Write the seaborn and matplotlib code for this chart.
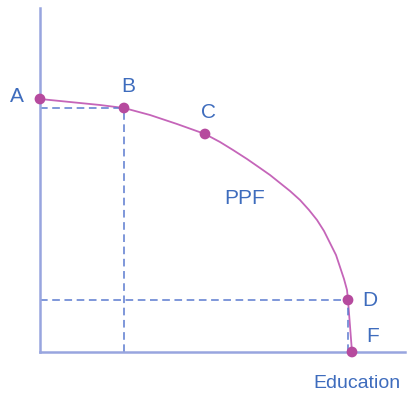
import matplotlib
matplotlib.use('Agg')
import matplotlib.pyplot as plt
import seaborn as sns
import pandas as pd

# PPF curve (education on x, other good on y)
curve_x = [0, 20, 40, 60, 84, 110, 137, 165, 180, 193, 207, 220, 230, 240, 250, 260, 269, 277, 284, 290, 296, 300, 304, 307, 308, 310, 312]
curve_y = [253, 251, 249, 247, 244, 237, 228, 218, 210, 202, 193, 184, 177, 169, 161, 152, 142, 132, 121, 109, 97, 85, 73, 62, 52, 26, 0]

# labelled points
point_labels = ['A', 'B', 'C', 'D', 'F']
point_x = [0, 84, 165, 308, 312]
point_y = [253, 244, 218, 52, 0]

axis_col = '#98a5df'
dash_col = '#5b7bcf'
curve_col = '#c565b9'
dot_col = '#b64a9e'
text_col = '#3e6cbd'

sns.set_style('white')
plt.rcParams['font.family'] = ['Liberation Sans', 'DejaVu Sans']

fig = plt.figure(figsize=(4.09, 3.96), dpi=100)
ax = fig.add_axes([40 / 409, 44 / 396, 365 / 409, 344 / 396])

curve = pd.DataFrame({'x': curve_x, 'y': curve_y})
sns.lineplot(data=curve, x='x', y='y', sort=False, color=curve_col, lw=1.3, ax=ax)

# dashed guide lines from B and D
bx, by = point_x[1], point_y[1]
dx, dy = point_x[3], point_y[3]
ax.plot([0, bx], [by, by], ls=(0, (5, 3)), color=dash_col, lw=1.1)
ax.plot([bx, bx], [0, by], ls=(0, (5, 3)), color=dash_col, lw=1.1)
ax.plot([0, dx], [dy, dy], ls=(0, (5, 3)), color=dash_col, lw=1.1)
ax.plot([dx, dx], [0, dy], ls=(0, (5, 3)), color=dash_col, lw=1.1)

pts = pd.DataFrame({'x': point_x, 'y': point_y})
sns.scatterplot(data=pts, x='x', y='y', color=dot_col, s=60, edgecolor='none',
                zorder=5, clip_on=False, ax=ax)

# letter labels
offsets = {'A': (-23, 2), 'B': (4, 21), 'C': (3, 21), 'D': (22, 0), 'F': (21, 15)}
for lab, x, y in zip(point_labels, point_x, point_y):
    ox, oy = offsets[lab]
    ax.text(x + ox, y + oy, lab, color=text_col, fontsize=15, ha='center', va='center')

ax.text(205, 153, 'PPF', color=text_col, fontsize=15, ha='center', va='center')
ax.text(317, -31, 'Education', color=text_col, fontsize=14, ha='center', va='center',
        clip_on=False)

ax.set_xlim(0, 365)
ax.set_ylim(0, 344)
ax.set_xticks([])
ax.set_yticks([])
ax.set_xlabel('')
ax.set_ylabel('')
for side in ['top', 'right']:
    ax.spines[side].set_visible(False)
for side in ['left', 'bottom']:
    ax.spines[side].set_color(axis_col)
    ax.spines[side].set_linewidth(1.8)

fig.savefig('out.png', dpi=100)
